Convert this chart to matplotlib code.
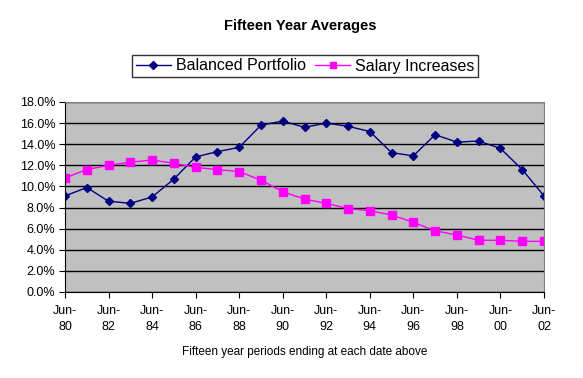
import numpy as np
import matplotlib.pyplot as plt
from matplotlib.ticker import PercentFormatter

plt.rcParams['font.family'] = ['Liberation Sans', 'DejaVu Sans']

periods = ['Jun-80', 'Jun-81', 'Jun-82', 'Jun-83', 'Jun-84', 'Jun-85', 'Jun-86', 'Jun-87',
           'Jun-88', 'Jun-89', 'Jun-90', 'Jun-91', 'Jun-92', 'Jun-93', 'Jun-94', 'Jun-95',
           'Jun-96', 'Jun-97', 'Jun-98', 'Jun-99', 'Jun-00', 'Jun-01', 'Jun-02']
balanced = [9.1, 9.9, 8.6, 8.4, 9.0, 10.7, 12.8, 13.3, 13.7, 15.8, 16.2, 15.6,
            16.0, 15.7, 15.2, 13.2, 12.9, 14.9, 14.2, 14.3, 13.6, 11.6, 9.1]
salary = [10.8, 11.6, 12.0, 12.3, 12.5, 12.2, 11.8, 11.6, 11.4, 10.6, 9.5, 8.8,
          8.4, 7.9, 7.7, 7.3, 6.6, 5.8, 5.4, 4.9, 4.9, 4.8, 4.8]

fig = plt.figure(figsize=(5.83, 3.78), dpi=100)
ax = fig.add_axes([65 / 583, 1 - 292 / 378, 479 / 583, 190 / 378])
ax.set_facecolor('#C0C0C0')

x = np.arange(len(periods))
ax.plot(x, balanced, color='#000080', marker='D', markersize=4.5, linewidth=1,
        label='Balanced Portfolio')
ax.plot(x, salary, color='#FF00FF', marker='s', markersize=5.5, linewidth=1,
        label='Salary Increases')

ax.set_xlim(0, len(periods) - 1)
ax.set_ylim(0, 18)
ax.set_yticks(np.arange(0, 18.1, 2))
ax.yaxis.set_major_formatter(PercentFormatter(decimals=1))
ax.set_xticks(x[::2])
ax.set_xticklabels([p.replace('-', '-\n') for p in periods[::2]], linespacing=1.55)
ax.grid(axis='y', color='black', linewidth=1)
ax.set_axisbelow(True)
ax.tick_params(labelsize=9, length=4, color='black', pad=3)
ax.tick_params(axis='x', pad=5)

for side in ['top', 'right']:
    ax.spines[side].set_color('#808080')
for side in ['left', 'bottom']:
    ax.spines[side].set_color('black')

ax.set_xlabel('Fifteen year periods ending at each date above', fontsize=8.5, labelpad=9)
fig.text(0.515, 1 - 26 / 378, 'Fifteen Year Averages', fontsize=10.5, fontweight='bold',
         ha='center', va='center')
leg = fig.legend(loc='center', bbox_to_anchor=(305 / 583, 1 - 66 / 378), ncol=2,
                 fontsize=11.5, frameon=True, fancybox=False, edgecolor='black',
                 handlelength=2.2, handletextpad=0.3, columnspacing=0.6,
                 borderpad=0.25, markerscale=0.8)
leg.get_frame().set_linewidth(1)

fig.savefig('out.png', dpi=100, facecolor='white')
